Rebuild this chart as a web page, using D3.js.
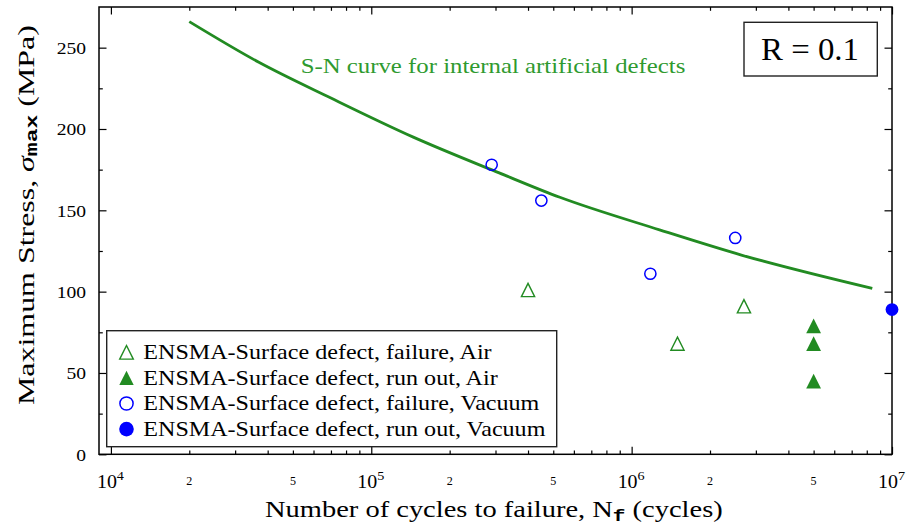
<!DOCTYPE html>
<html>
<head>
<meta charset="utf-8">
<script src="https://cdn.jsdelivr.net/npm/d3@7"></script>
<style>
  html, body { margin: 0; padding: 0; background: #fff; }
  svg { display: block; font-family: "Liberation Serif", serif; }
  text { white-space: pre; }
</style>
</head>
<body>
<svg id="chart" width="907" height="529"></svg>
<script>
// ---- Data ---------------------------------------------------------------
// S-N curve for internal artificial defects (cycles, MPa)
const curveCycles = [2.0e4, 3.7e4, 7.0e4, 1.45e5, 3.1e5, 5.3e5, 1.28e6, 2.64e6, 8.4e6];
const curveStress = [266, 241, 219, 195, 173, 158, 138, 122.5, 102];

// ENSMA surface-defect specimens
const airFailureCycles = [4.0e5, 1.5e6, 2.7e6];
const airFailureStress = [101, 68, 91];
const airRunoutCycles  = [5e6, 5e6, 5e6];
const airRunoutStress  = [79, 68, 45];
const vacFailureCycles = [2.9e5, 4.5e5, 1.18e6, 2.5e6];
const vacFailureStress = [178, 156, 111, 133];
const vacRunoutCycles  = [1e7];
const vacRunoutStress  = [89];

const legendLabels = [
  "ENSMA-Surface defect, failure, Air",
  "ENSMA-Surface defect, run out, Air",
  "ENSMA-Surface defect, failure, Vacuum",
  "ENSMA-Surface defect, run out, Vacuum"
];

// Axis ticks and labels
const xMajorTicks = [1e4, 1e5, 1e6, 1e7];
const xMajorExponents = ["4", "5", "6", "7"];
const xMinorLabelTicks = [2e4, 5e4, 2e5, 5e5, 2e6, 5e6];
const xMinorLabels = ["2", "5", "2", "5", "2", "5"];
const yMajorTicks = [0, 50, 100, 150, 200, 250];
const yMajorLabels = ["0", "50", "100", "150", "200", "250"];
const yMinorTicks = [25, 75, 125, 175, 225];

const SERIF = "Liberation Serif";
const MONO = "Liberation Mono";
const GREEN = "#228B22";
const BLUE = "#0000FF";

// ---- Layout -------------------------------------------------------------
const svg = d3.select("#chart");
const L = 99, R = 892, T = 7, B = 454.3;

const x = d3.scaleLog().domain([9000, 1e7]).range([L, R]);
const y = d3.scaleLinear().domain([0, 275]).range([B, T]);

const isMajor = v => Math.abs(Math.log10(v) - Math.round(Math.log10(v))) < 1e-9;
const xMinorTicks = x.ticks().filter(v => v > 1e4 * 0.999 && !isMajor(v));

// ---- Text helper: draws text and stretches it horizontally to a width ----
function stretchedText(parent, opts, build) {
  const g = parent.append("g");
  const t = g.append("text")
    .attr("font-family", opts.family || SERIF)
    .attr("font-size", opts.size)
    .attr("text-anchor", opts.anchor || "start")
    .attr("fill", opts.fill || "#000");
  build(t);
  let s = opts.scale || 1;
  if (opts.width) s = opts.width / t.node().getBBox().width;
  g.attr("transform",
    `translate(${opts.x},${opts.y})` + (opts.rotate ? ` rotate(${opts.rotate})` : "") + ` scale(${s},1)`);
  return s;
}

// ---- Axes (inward ticks on all four sides) ------------------------------
function drawAxis(axisGen, tx, ty) {
  svg.append("g")
    .attr("transform", `translate(${tx},${ty})`)
    .call(axisGen)
    .call(g => {
      g.select(".domain").remove();
      g.selectAll("text").remove();
      g.selectAll("line").attr("stroke", "#000").attr("stroke-width", 1.2);
    });
}
const MAJ = -7.5, MIN = -3.8;
drawAxis(d3.axisBottom(x).tickValues(xMajorTicks).tickSize(MAJ).tickFormat(""), 0, B);
drawAxis(d3.axisBottom(x).tickValues(xMinorTicks).tickSize(MIN).tickFormat(""), 0, B);
drawAxis(d3.axisTop(x).tickValues(xMajorTicks).tickSize(MAJ).tickFormat(""), 0, T);
drawAxis(d3.axisTop(x).tickValues(xMinorTicks).tickSize(MIN).tickFormat(""), 0, T);
drawAxis(d3.axisLeft(y).tickValues(yMajorTicks).tickSize(MAJ).tickFormat(""), L, 0);
drawAxis(d3.axisLeft(y).tickValues(yMinorTicks).tickSize(MIN).tickFormat(""), L, 0);
drawAxis(d3.axisRight(y).tickValues(yMajorTicks).tickSize(MAJ).tickFormat(""), R, 0);
drawAxis(d3.axisRight(y).tickValues(yMinorTicks).tickSize(MIN).tickFormat(""), R, 0);

svg.append("rect")
  .attr("x", L).attr("y", T).attr("width", R - L).attr("height", B - T)
  .attr("fill", "none").attr("stroke", "#000").attr("stroke-width", 1.5);

// Tick labels
const yTickScale = 1.12;
yMajorTicks.forEach((v, i) => {
  stretchedText(svg, { x: 86, y: y(v) + 6.4, size: 17.5, anchor: "end", scale: yTickScale },
    t => t.text(yMajorLabels[i]));
});
xMajorTicks.forEach((v, i) => {
  stretchedText(svg, { x: x(v) - 0.5, y: 488, size: 19, anchor: "middle", scale: 1.05 }, t => {
    t.append("tspan").text("10");
    t.append("tspan").attr("font-size", 13.5).attr("dy", -8).text(xMajorExponents[i]);
  });
});
xMinorLabelTicks.forEach((v, i) => {
  stretchedText(svg, { x: x(v), y: 485, size: 11.5, anchor: "middle", scale: 1.05 },
    t => t.text(xMinorLabels[i]));
});

// Axis titles
stretchedText(svg, { x: 265, y: 517, size: 23, width: 458 }, t => {
  t.append("tspan").text("Number of cycles to failure, N");
  t.append("tspan").attr("font-family", MONO).attr("font-weight", "bold").attr("font-size", 17).attr("dy", 4).text("f");
  t.append("tspan").attr("dy", -4).text(" (cycles)");
});
stretchedText(svg, { x: 34, y: 405, size: 23.5, width: 380, rotate: -90 }, t => {
  t.append("tspan").text("Maximum Stress, ");
  t.append("tspan").attr("font-style", "italic").text("σ");
  t.append("tspan").attr("font-family", MONO).attr("font-weight", "bold").attr("font-size", 17).attr("dy", 3).text("max");
  t.append("tspan").attr("dy", -3).text(" (MPa)");
});

// ---- S-N curve ------------------------------------------------------------
const curveData = curveCycles.map((n, i) => ({ n, s: curveStress[i] }));
svg.append("path")
  .datum(curveData)
  .attr("d", d3.line().x(d => x(d.n)).y(d => y(d.s)).curve(d3.curveMonotoneX))
  .attr("fill", "none")
  .attr("stroke", GREEN)
  .attr("stroke-width", 2.8)
  .attr("stroke-linecap", "butt");

stretchedText(svg, { x: 300.7, y: 73.3, size: 20, width: 385, fill: "#2f9a2f" },
  t => t.text("S-N curve for internal artificial defects"));

// ---- Markers --------------------------------------------------------------
const triPath = h => `M0,${-h}L${h},${h}L${-h},${h}Z`;

function pairs(cs, ss) { return cs.map((c, i) => ({ n: c, s: ss[i] })); }

const plot = svg.append("g");
plot.selectAll(".vac-fail").data(pairs(vacFailureCycles, vacFailureStress)).join("circle")
  .attr("cx", d => x(d.n)).attr("cy", d => y(d.s)).attr("r", 5.6)
  .attr("fill", "none").attr("stroke", BLUE).attr("stroke-width", 1.5);
plot.selectAll(".vac-run").data(pairs(vacRunoutCycles, vacRunoutStress)).join("circle")
  .attr("cx", d => x(d.n)).attr("cy", d => y(d.s)).attr("r", 6.4)
  .attr("fill", BLUE);
plot.selectAll(".air-fail").data(pairs(airFailureCycles, airFailureStress)).join("path")
  .attr("transform", d => `translate(${x(d.n)},${y(d.s)})`)
  .attr("d", triPath(6.6))
  .attr("fill", "none").attr("stroke", GREEN).attr("stroke-width", 1.4);
plot.selectAll(".air-run").data(pairs(airRunoutCycles, airRunoutStress)).join("path")
  .attr("transform", d => `translate(${x(d.n)},${y(d.s)})`)
  .attr("d", triPath(7.4))
  .attr("fill", GREEN);

// ---- Legend -------------------------------------------------------------
const leg = svg.append("g");
leg.append("rect")
  .attr("x", 106.7).attr("y", 330.7).attr("width", 450).attr("height", 116)
  .attr("fill", "#fff").attr("stroke", "#222").attr("stroke-width", 1.4);

const rowY = [352.3, 377.9, 403.5, 429.1];
const mx = 126.5;
leg.append("path").attr("transform", `translate(${mx},${rowY[0]})`).attr("d", triPath(6.8))
  .attr("fill", "none").attr("stroke", GREEN).attr("stroke-width", 1.4);
leg.append("path").attr("transform", `translate(${mx},${rowY[1]})`).attr("d", triPath(7.2))
  .attr("fill", GREEN);
leg.append("circle").attr("cx", mx).attr("cy", rowY[2]).attr("r", 6.6)
  .attr("fill", "none").attr("stroke", BLUE).attr("stroke-width", 1.5);
leg.append("circle").attr("cx", mx).attr("cy", rowY[3]).attr("r", 7.3)
  .attr("fill", BLUE);

const legScale = stretchedText(leg, { x: 143.3, y: rowY[3] + 6.7, size: 20, width: 403 },
  t => t.text(legendLabels[3]));
legendLabels.slice(0, 3).forEach((lab, i) => {
  stretchedText(leg, { x: 143.3, y: rowY[i] + 6.7, size: 20, scale: legScale }, t => t.text(lab));
});

// ---- Load ratio box -------------------------------------------------------
svg.append("rect")
  .attr("x", 744).attr("y", 22.3).attr("width", 133.3).attr("height", 53.7)
  .attr("fill", "#fff").attr("stroke", "#222").attr("stroke-width", 1.4);
stretchedText(svg, { x: 761, y: 60, size: 31, width: 98 }, t => t.text("R = 0.1"));
</script>
</body>
</html>
